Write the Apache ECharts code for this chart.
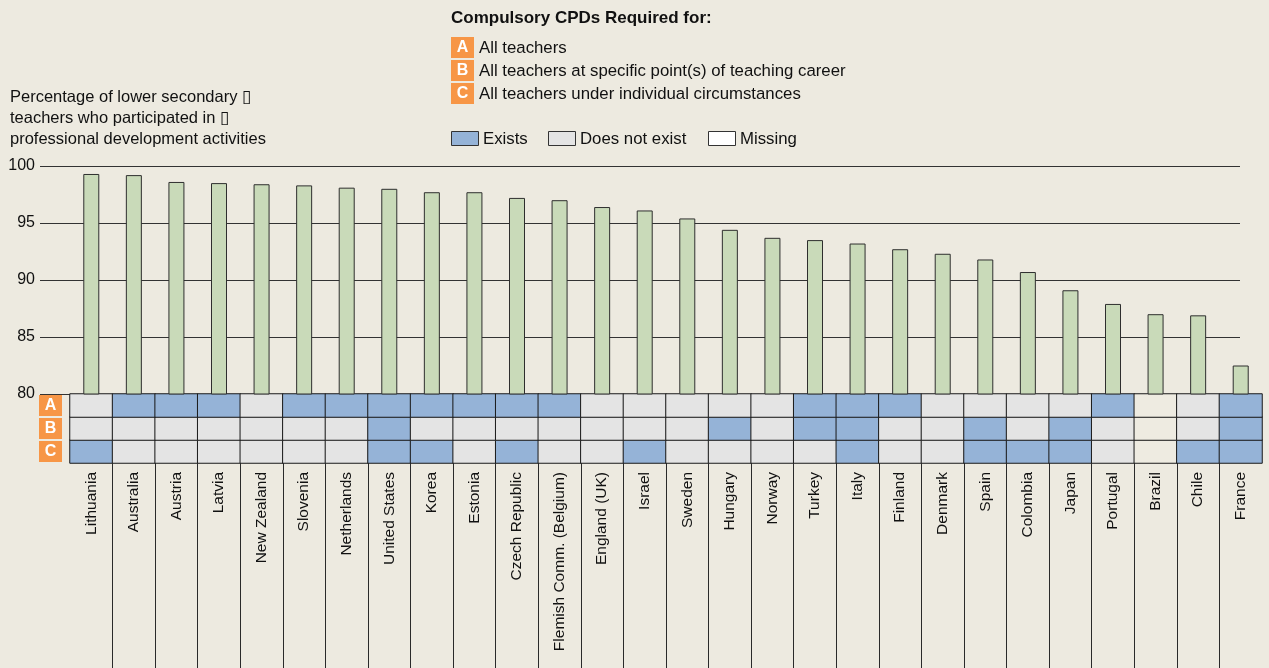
<!DOCTYPE html>
<html>
<head>
<meta charset="utf-8">
<script src="https://cdn.jsdelivr.net/npm/echarts@6/dist/echarts.min.js"></script>
<style>
  html, body { margin: 0; padding: 0; background: #EDEAE0; }
  #chart { width: 1269px; height: 668px; }
</style>
</head>
<body>
<div id="chart"></div>
<script>
// Countries, ordered by participation rate
const countries = [
  'Lithuania', 'Australia', 'Austria', 'Latvia', 'New Zealand', 'Slovenia', 'Netherlands',
  'United States', 'Korea', 'Estonia', 'Czech Republic', 'Flemish Comm. (Belgium)', 'England (UK)',
  'Israel', 'Sweden', 'Hungary', 'Norway', 'Turkey', 'Italy', 'Finland', 'Denmark', 'Spain',
  'Colombia', 'Japan', 'Portugal', 'Brazil', 'Chile', 'France'
];

// % of lower secondary teachers who participated in professional development
const participation = [
  99.3, 99.2, 98.6, 98.5, 98.4, 98.3, 98.1, 98.0, 97.7, 97.7, 97.2, 97.0, 96.4, 96.1,
  95.4, 94.4, 93.7, 93.5, 93.2, 92.7, 92.3, 91.8, 90.7, 89.1, 87.9, 87.0, 86.9, 82.5
];

// Compulsory CPD status: 1 = exists, 0 = does not exist, -1 = missing
const reqA = [0,1,1,1,0,1,1,1,1,1,1,1,0,0,0,0,0,1,1,1,0,0,0,0,1,-1,0,1];
const reqB = [0,0,0,0,0,0,0,1,0,0,0,0,0,0,0,1,0,1,1,0,0,1,0,1,0,-1,0,1];
const reqC = [1,0,0,0,0,0,0,1,1,0,1,0,0,1,0,0,0,0,1,0,0,1,1,1,0,-1,1,1];

const rowLabels = ['C', 'B', 'A'];
const yTicks = [80, 85, 90, 95, 100];

const BG = '#EDEAE0';
const BLUE = '#95B3D7';
const GREY = '#E4E4E4';
const MISSING = '#EEEBE1';
const ORANGE = '#F79646';
const GREEN = '#C9DAB9';
const FONT = '"Liberation Sans", Arial, sans-serif';

const cells = [];
[reqC, reqB, reqA].forEach((row, r) => {
  row.forEach((v, i) => cells.push([i, r, v]));
});

const chart = echarts.init(document.getElementById('chart'), null, { renderer: 'canvas' });

// Legend key (A/B/C definitions and status swatches)
const keyItems = [
  { tag: 'A', text: 'All teachers', y: 37 },
  { tag: 'B', text: 'All teachers at specific point(s) of teaching career', y: 60 },
  { tag: 'C', text: 'All teachers under individual circumstances', y: 83 }
];
const statusItems = [
  { color: BLUE, text: 'Exists', x: 451 },
  { color: GREY, text: 'Does not exist', x: 548 },
  { color: '#FFFFFF', text: 'Missing', x: 708 }
];

const graphics = [
  {
    type: 'text', left: 451, top: 10,
    style: { text: 'Compulsory CPDs Required for:', font: 'bold 17px ' + FONT, fill: '#111' }
  }
];
keyItems.forEach(k => {
  graphics.push({
    type: 'rect', shape: { x: 451, y: k.y, width: 23, height: 21 },
    style: { fill: ORANGE }
  });
  graphics.push({
    type: 'text', x: 462.5, y: k.y + 11,
    style: { text: k.tag, font: 'bold 16px ' + FONT, fill: '#fff', align: 'center', verticalAlign: 'middle' }
  });
  graphics.push({
    type: 'text', x: 479, y: k.y + 11,
    style: { text: k.text, font: '16.8px ' + FONT, fill: '#111', verticalAlign: 'middle' }
  });
});
statusItems.forEach(s => {
  graphics.push({
    type: 'rect', shape: { x: s.x + 0.5, y: 131.5, width: 27, height: 14 },
    style: { fill: s.color, stroke: '#333', lineWidth: 1 }
  });
  graphics.push({
    type: 'text', x: s.x + 32, y: 139,
    style: { text: s.text, font: '16.8px ' + FONT, fill: '#111', verticalAlign: 'middle' }
  });
});

const option = {
  backgroundColor: BG,
  animation: false,
  textStyle: { fontFamily: FONT },
  title: {
    text: 'Percentage of lower secondary \u25AF\nteachers who participated in \u25AF\nprofessional development activities',
    left: 5, top: 82,
    textStyle: { fontSize: 16.5, fontWeight: 'normal', color: '#111', lineHeight: 21, fontFamily: FONT }
  },
  graphic: graphics,
  visualMap: {
    show: false,
    type: 'piecewise',
    seriesIndex: 1,
    dimension: 2,
    pieces: [
      { value: 1, color: BLUE },
      { value: 0, color: GREY },
      { value: -1, color: MISSING }
    ]
  },
  grid: [
    // value scale with gridlines
    { left: 40, right: 29, top: 166, height: 228 },
    // bars
    { left: 70, width: 1192, top: 166, height: 228 },
    // requirement table
    { left: 70, width: 1192, top: 394, height: 69 },
    // column separators under the table
    { left: 70, width: 1192, top: 463, bottom: 0 }
  ],
  xAxis: [
    { gridIndex: 0, type: 'value', min: 0, max: 1, show: false },
    {
      gridIndex: 1, type: 'category', data: countries,
      axisLine: { show: false }, axisTick: { show: false }, axisLabel: { show: false }
    },
    {
      gridIndex: 2, type: 'category', data: countries, position: 'bottom',
      axisLine: { show: false }, axisTick: { show: false },
      axisLabel: { rotate: 90, fontSize: 15.5, color: '#111', margin: 9, interval: 0, fontFamily: FONT }
    },
    {
      gridIndex: 3, type: 'category', data: countries,
      axisLine: { show: false }, axisTick: { show: false }, axisLabel: { show: false },
      splitLine: {
        show: true, interval: 0, showMinLine: false, showMaxLine: false,
        lineStyle: { color: '#2a2a2a', width: 1 }
      }
    }
  ],
  yAxis: [
    {
      gridIndex: 0, type: 'value', min: 80, max: 100, interval: 5,
      axisLine: { show: false }, axisTick: { show: false },
      axisLabel: {
        fontSize: 16, color: '#111', margin: 5, fontFamily: FONT,
        formatter: v => (yTicks.includes(v) ? String(v) : '')
      },
      splitLine: { show: true, lineStyle: { color: '#333', width: 1 } }
    },
    { gridIndex: 1, type: 'value', min: 80, max: 100, show: false },
    {
      gridIndex: 2, type: 'category', data: rowLabels,
      axisLine: { show: false }, axisTick: { show: false },
      axisLabel: {
        margin: 8,
        formatter: v => '{t|' + v + '}',
        rich: {
          t: {
            width: 23, height: 21, lineHeight: 21, align: 'center', verticalAlign: 'middle',
            backgroundColor: ORANGE, color: '#fff', fontWeight: 'bold', fontSize: 16, fontFamily: FONT
          }
        }
      }
    },
    { gridIndex: 3, type: 'value', show: false }
  ],
  series: [
    {
      type: 'bar',
      xAxisIndex: 1, yAxisIndex: 1,
      data: participation,
      barWidth: 16,
      itemStyle: { color: GREEN, borderColor: '#2e2e2e', borderWidth: 1 },
      z: 3
    },
    {
      type: 'heatmap',
      xAxisIndex: 2, yAxisIndex: 2,
      data: cells,
      itemStyle: { borderColor: '#1a1a1a', borderWidth: 1 },
      emphasis: { disabled: true }
    }
  ]
};

chart.setOption(option);
</script>
</body>
</html>
